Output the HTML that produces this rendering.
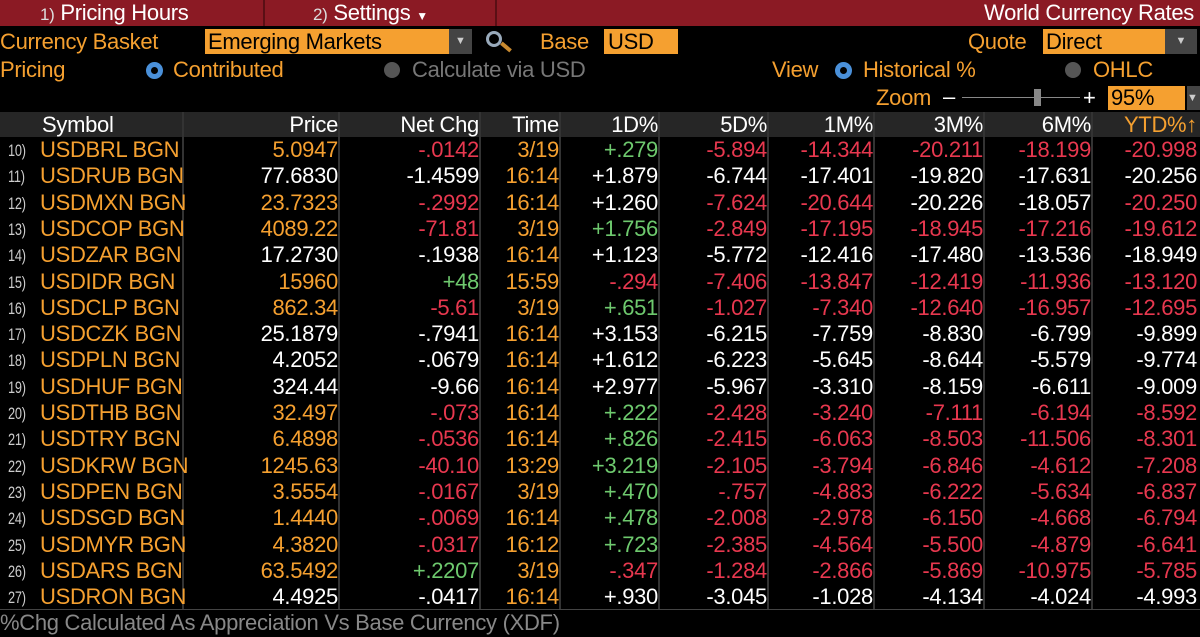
<!DOCTYPE html>
<html><head><meta charset="utf-8">
<style>
body{margin:0;width:1200px;height:637px;background:#000;overflow:hidden;font-family:"Liberation Sans",sans-serif;position:relative}
.a{position:absolute;white-space:nowrap}
.o{color:#f5a030}.w{color:#fff}.r{color:#e8384f}.g{color:#6ec96e}.gr{color:#777}
.t{font-size:22px;line-height:26px;letter-spacing:-0.3px}
</style></head><body>
<div class="a" style="left:0;top:0;width:1200px;height:26px;background:#8b1a24"></div>
<div class="a" style="left:263px;top:0;width:2px;height:26px;background:#5a0f15"></div>
<div class="a" style="left:495px;top:0;width:2px;height:26px;background:#5a0f15"></div>
<div class="a t w" style="left:40px;top:0"><span style="font-size:17px;color:#ddd">1)</span> Pricing Hours</div>
<div class="a t w" style="left:313px;top:0"><span style="font-size:17px;color:#ddd">2)</span> Settings <span style="font-size:12px">▼</span></div>
<div class="a t w" style="right:6px;top:0">World Currency Rates</div>

<div class="a t o" style="left:0;top:29px">Currency Basket</div>
<div class="a t" style="left:205px;top:29px;width:244px;height:25px;background:#f5a030;color:#000;padding-left:3px;box-sizing:border-box;line-height:25px">Emerging Markets</div>
<div class="a" style="left:449px;top:29px;width:23px;height:25px;background:#444;color:#ccc;font-size:11px;text-align:center;line-height:25px">▼</div>
<div class="a" style="left:486px;top:31px;width:16px;height:16px;border:3px solid #9ab;border-radius:50%;box-sizing:border-box"></div>
<div class="a" style="left:500px;top:45px;width:12px;height:4px;background:#c88a30;transform:rotate(40deg)"></div>
<div class="a t o" style="left:540px;top:29px">Base</div>
<div class="a t" style="left:604px;top:29px;width:74px;height:25px;background:#f5a030;color:#000;padding-left:4px;box-sizing:border-box;line-height:25px">USD</div>
<div class="a t o" style="left:968px;top:29px">Quote</div>
<div class="a t" style="left:1043px;top:29px;width:122px;height:25px;background:#f5a030;color:#000;padding-left:3px;box-sizing:border-box;line-height:25px">Direct</div>
<div class="a" style="left:1165px;top:29px;width:32px;height:25px;background:#444;color:#ccc;font-size:11px;text-align:center;line-height:25px">▼</div>

<div class="a t o" style="left:0;top:57px">Pricing</div>
<div class="a" style="left:146px;top:62px;width:17px;height:17px;border:5px solid #4a90d9;border-radius:50%;box-sizing:border-box"></div>
<div class="a t o" style="left:173px;top:57px">Contributed</div>
<div class="a" style="left:384px;top:62px;width:16px;height:16px;background:#555;border-radius:50%"></div>
<div class="a t gr" style="left:412px;top:57px">Calculate via USD</div>
<div class="a t o" style="left:772px;top:57px">View</div>
<div class="a" style="left:835px;top:62px;width:17px;height:17px;border:5px solid #4a90d9;border-radius:50%;box-sizing:border-box"></div>
<div class="a t o" style="left:863px;top:57px">Historical %</div>
<div class="a" style="left:1065px;top:62px;width:16px;height:16px;background:#555;border-radius:50%"></div>
<div class="a t o" style="left:1093px;top:57px">OHLC</div>

<div class="a t o" style="left:876px;top:85px">Zoom</div>
<div class="a t w" style="left:943px;top:84px">–</div>
<div class="a" style="left:962px;top:97px;width:118px;height:1px;background:#888"></div>
<div class="a" style="left:1034px;top:89px;width:7px;height:17px;background:#888"></div>
<div class="a t w" style="left:1083px;top:85px">+</div>
<div class="a t" style="left:1108px;top:86px;width:77px;height:24px;background:#f5a030;color:#000;padding-left:3px;box-sizing:border-box;line-height:24px">95%</div>
<div class="a" style="left:1187px;top:86px;width:13px;height:24px;background:#444;color:#ccc;font-size:11px;line-height:24px">▼</div>

<div class="a" style="left:0;top:112px;width:1200px;height:25px;background:#262626"></div>
<div id="tbl"></div>
<div class="a" style="left:0;top:609px;width:1200px;height:1px;background:#444"></div>
<div class="a t" style="left:0;top:610px;color:#888">%Chg Calculated As Appreciation Vs Base Currency (XDF)</div>
<script>
const symbols=["USDBRL","USDRUB","USDMXN","USDCOP","USDZAR","USDIDR","USDCLP","USDCZK","USDPLN","USDHUF","USDTHB","USDTRY","USDKRW","USDPEN","USDSGD","USDMYR","USDARS","USDRON"];
const prices=["5.0947","77.6830","23.7323","4089.22","17.2730","15960","862.34","25.1879","4.2052","324.44","32.497","6.4898","1245.63","3.5554","1.4440","4.3820","63.5492","4.4925"];
const netChg=["-.0142","-1.4599","-.2992","-71.81","-.1938","+48","-5.61","-.7941","-.0679","-9.66","-.073","-.0536","-40.10","-.0167","-.0069","-.0317","+.2207","-.0417"];
const times=["3/19","16:14","16:14","3/19","16:14","15:59","3/19","16:14","16:14","16:14","16:14","16:14","13:29","3/19","16:14","16:12","3/19","16:14"];
const d1=["+.279","+1.879","+1.260","+1.756","+1.123","-.294","+.651","+3.153","+1.612","+2.977","+.222","+.826","+3.219","+.470","+.478","+.723","-.347","+.930"];
const d5=["-5.894","-6.744","-7.624","-2.849","-5.772","-7.406","-1.027","-6.215","-6.223","-5.967","-2.428","-2.415","-2.105","-.757","-2.008","-2.385","-1.284","-3.045"];
const m1=["-14.344","-17.401","-20.644","-17.195","-12.416","-13.847","-7.340","-7.759","-5.645","-3.310","-3.240","-6.063","-3.794","-4.883","-2.978","-4.564","-2.866","-1.028"];
const m3=["-20.211","-19.820","-20.226","-18.945","-17.480","-12.419","-12.640","-8.830","-8.644","-8.159","-7.111","-8.503","-6.846","-6.222","-6.150","-5.500","-5.869","-4.134"];
const m6=["-18.199","-17.631","-18.057","-17.216","-13.536","-11.936","-16.957","-6.799","-5.579","-6.611","-6.194","-11.506","-4.612","-5.634","-4.668","-4.879","-10.975","-4.024"];
const ytd=["-20.998","-20.256","-20.250","-19.612","-18.949","-13.120","-12.695","-9.899","-9.774","-9.009","-8.592","-8.301","-7.208","-6.837","-6.794","-6.641","-5.785","-4.993"];
// color codes per row: price,net,1D,5D,1M,3M,6M,YTD
const colors=["orgrrrrr","wwwwwwww","orwrrwwr","orgrrrrr","wwwwwwww","ogrrrrrr","orgrrrrr","wwwwwwww","wwwwwwww","wwwwwwww","orgrrrrr","orgrrrrr","orgrrrrr","orgrrrrr","orgrrrrr","orgrrrrr","ogrrrrrr","wwwwwwww"];
const colsR=[338,479,559,658,767,873,983,1091,1197];
const heads=["Price","Net Chg","Time","1D%","5D%","1M%","3M%","6M%","YTD%↑"];
const lines=[182,338,479,559,658,767,873,983,1091];
const tbl=document.getElementById('tbl');
const C={o:'#f5a030',w:'#fff',r:'#e8384f',g:'#6ec96e'};
function mk(cls,style,txt){const d=document.createElement('div');d.className='a t '+cls;d.style.cssText=style;d.textContent=txt;tbl.appendChild(d);return d;}
lines.forEach(x=>{const l=document.createElement('div');l.className='a';l.style.cssText=`left:${x}px;top:112px;width:2px;height:497px;background:#333`;


tbl.appendChild(l);});
const sh=mk('w','left:42px;top:112px','Symbol');


heads.forEach((h,i)=>{const e=mk('','right:'+(1200-colsR[i])+'px;top:112px;color:'+(i==8?'#f5a030':'#fff'),h);

});
const RH=26.3,Y0=137;
symbols.forEach((s,i)=>{const y=Y0+i*RH;const cc=colors[i];
const n=mk('','left:8px;top:'+(y+1)+'px;font-size:17px;color:#ccc;transform:scaleX(.75);transform-origin:left',(10+i)+')');


const sy=mk('o','left:40px;top:'+y+'px',s+' BGN');


const vals=[prices[i],netChg[i],times[i],d1[i],d5[i],m1[i],m3[i],m6[i],ytd[i]];
vals.forEach((v,j)=>{let col;if(j==2)col=C.o;else col=C[cc[j<2?j:j-1]];
const e=mk('','right:'+(1200-colsR[j])+'px;top:'+y+'px;color:'+col,v);

});});
</script>
</body></html>
